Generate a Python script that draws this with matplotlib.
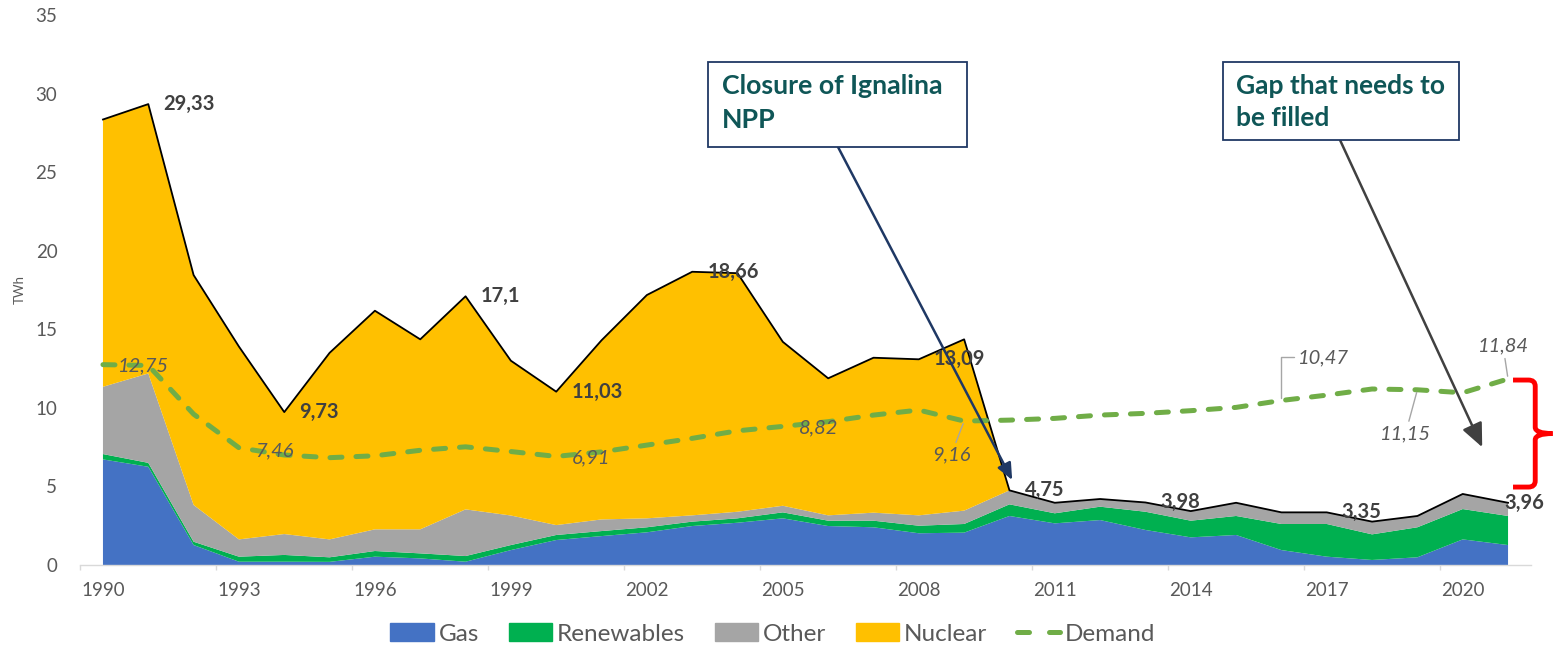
import numpy as np
import matplotlib
matplotlib.use("Agg")
import matplotlib.pyplot as plt
from matplotlib.patches import Patch, Rectangle, PathPatch
from matplotlib.lines import Line2D
from matplotlib.path import Path

plt.rcParams['font.family'] = ['Lato', 'DejaVu Sans']

years = list(range(1990, 2022))

gas = [6.72, 6.25, 1.27, 0.21, 0.21, 0.20, 0.53, 0.42, 0.21, 0.95,
       1.59, 1.84, 2.08, 2.48, 2.69, 2.97, 2.48, 2.40, 2.02, 2.06,
       3.12, 2.65, 2.86, 2.23, 1.76, 1.91, 0.95, 0.53, 0.32, 0.49,
       1.63, 1.27]
renewables = [0.34, 0.25, 0.21, 0.32, 0.43, 0.29, 0.36, 0.32, 0.36, 0.32,
              0.32, 0.32, 0.32, 0.28, 0.28, 0.38, 0.34, 0.42, 0.48, 0.55,
              0.74, 0.64, 0.85, 1.16, 1.06, 1.21, 1.66, 2.08, 1.63, 1.91,
              1.93, 1.85]
other = [4.28, 5.69, 2.34, 1.10, 1.33, 1.14, 1.38, 1.53, 2.97, 1.88,
         0.63, 0.74, 0.57, 0.40, 0.42, 0.42, 0.34, 0.51, 0.66, 0.85,
         0.89, 0.67, 0.49, 0.59, 0.61, 0.84, 0.74, 0.74, 0.81, 0.72,
         0.96, 0.84]
nuclear = [17.01, 17.14, 14.63, 12.27, 7.76, 11.87, 13.91, 12.09, 13.56, 9.85,
           8.49, 11.40, 14.21, 15.50, 15.18, 10.43, 8.72, 9.86, 9.93, 10.90,
           0, 0, 0, 0, 0, 0, 0, 0, 0, 0,
           0, 0]
demand = [12.75, 12.70, 9.60, 7.46, 7.00, 6.83, 6.95, 7.30, 7.52, 7.22,
          6.91, 7.20, 7.63, 8.06, 8.54, 8.82, 9.12, 9.54, 9.86, 9.16,
          9.22, 9.33, 9.54, 9.65, 9.82, 10.03, 10.47, 10.81, 11.20, 11.15,
          10.96, 11.84]

total_label_years = [1991, 1994, 1998, 2000, 2003, 2008, 2010, 2013, 2017, 2021]
demand_label_years = [1990, 1993, 2000, 2005, 2009, 2016, 2019, 2021]

tick_years = list(range(1990, 2022, 3))

c_gas = '#4472C4'
c_ren = '#00B050'
c_other = '#A5A5A5'
c_nuc = '#FFC000'
c_dem = '#70AD47'
c_txt = '#595959'
c_teal = '#0F5657'


def fmt(v):
    return f"{v:g}".replace('.', ',')


total = np.array(gas) + np.array(renewables) + np.array(other) + np.array(nuclear)

W, H = 1553, 648
fig = plt.figure(figsize=(W / 100, H / 100), dpi=100)
ax = fig.add_axes([80.3 / W, 1 - 565 / H, 1450.4 / W, 550 / H])

ax.stackplot(years, gas, renewables, other, nuclear,
             colors=[c_gas, c_ren, c_other, c_nuc], linewidth=0)
ax.plot(years, total, color='black', lw=1.3, zorder=3)
ax.plot(years, demand, color=c_dem, lw=3.6, linestyle=(0, (2.4, 2.8)),
        dash_capstyle='round', zorder=4)

ax.set_xlim(1989.5, 2021.5)
ax.set_ylim(0, 35)

for s in ['top', 'right', 'left']:
    ax.spines[s].set_visible(False)
ax.spines['bottom'].set_color('#D9D9D9')
ax.spines['bottom'].set_linewidth(1)

ax.set_yticks(range(0, 36, 5))
ax.tick_params(axis='y', length=0, pad=16.5, labelsize=13.5, labelcolor=c_txt)
ax.set_xticks(tick_years)
ax.set_xticks([y - 0.5 for y in tick_years], minor=True)
ax.tick_params(axis='x', which='major', length=0, pad=12, labelsize=13.5,
               labelcolor=c_txt)
ax.tick_params(axis='x', which='minor', length=3.6, width=1, color='#D9D9D9')

ax.set_ylabel('TWh', fontsize=9.5, color=c_txt)
ax.yaxis.set_label_coords(-0.0374, 0.5)

# labels on the total line
for y in total_label_years:
    i = years.index(y)
    dx = -2.9 if y == 2021 else 10.8
    ax.annotate(fmt(round(total[i], 2)), (y, total[i]), xytext=(dx, 0),
                textcoords='offset points', ha='left', va='center',
                fontsize=14.5, fontweight='bold', color='#404040', zorder=5)

# demand labels
dem_offsets = {1990: (10.8, -0.7), 1993: (11.5, -2.2), 2000: (11.5, -0.7),
               2005: (11.5, -0.7)}
for y in demand_label_years:
    i = years.index(y)
    if y in dem_offsets:
        ax.annotate(fmt(demand[i]), (y, demand[i]), xytext=dem_offsets[y],
                    textcoords='offset points', ha='left', va='center',
                    fontsize=14.5, fontstyle='italic', color=c_txt, zorder=5)

lead = dict(arrowstyle='-', color='#A6A6A6', lw=1, shrinkA=1, shrinkB=2)
for y, off in [(2009, (-9.4, -24.5)), (2019, (-8.6, -31.7)), (2021, (-3.6, 23.8))]:
    i = years.index(y)
    ax.annotate(fmt(demand[i]), (y, demand[i]), xytext=off,
                textcoords='offset points', ha='center', va='center',
                fontsize=14.5, fontstyle='italic', color=c_txt, zorder=5,
                arrowprops=lead, annotation_clip=False)
i = years.index(2016)
ax.annotate(fmt(demand[i]), (2016, demand[i]), xytext=(12.2, 31),
            textcoords='offset points', ha='left', va='center',
            fontsize=14.5, fontstyle='italic', color=c_txt, zorder=5,
            arrowprops=dict(lead, relpos=(0, 0.5),
                            connectionstyle='angle,angleA=180,angleB=90,rad=0'))

# annotation boxes
fig.add_artist(Rectangle((708 / W, 1 - 147 / H), 259 / W, 85 / H,
                         transform=fig.transFigure, fc='white',
                         ec='#203864', lw=1.3))
fig.text(722 / W, 1 - 74 / H, 'Closure of Ignalina\nNPP', ha='left', va='top',
         fontsize=19.3, fontweight='bold', color=c_teal, linespacing=1.5)
fig.add_artist(Rectangle((1223 / W, 1 - 140 / H), 236 / W, 78 / H,
                         transform=fig.transFigure, fc='white',
                         ec='#203864', lw=1.3))
fig.text(1236 / W, 1 - 74 / H, 'Gap that needs to\nbe filled', ha='left',
         va='top', fontsize=19, fontweight='bold', color=c_teal,
         linespacing=1.4)

ax.annotate('', xy=(2010.06, 5.41), xytext=(838, H - 147),
            textcoords='figure pixels', annotation_clip=False, zorder=6,
            arrowprops=dict(arrowstyle='-|>,head_length=0.5,head_width=0.22',
                            color='#1F3864', lw=1.8, mutation_scale=20,
                            shrinkA=0, shrinkB=0))
ax.annotate('', xy=(2020.43, 7.5), xytext=(1340, H - 140),
            textcoords='figure pixels', annotation_clip=False, zorder=6,
            arrowprops=dict(arrowstyle='-|>,head_length=0.72,head_width=0.32',
                            color='#404040', lw=1.8, mutation_scale=20,
                            shrinkA=0, shrinkB=0))

# red brace for the gap
x0, x1, x2 = 2021.11, 2021.60, 2021.98
ytop, ybot = 11.77, 4.96
ymid = (ytop + ybot) / 2
verts = [(x0, ytop), (x1 - 0.15, ytop), (x1, ytop), (x1, ytop - 0.4),
         (x1, ymid + 0.4), (x1, ymid), (x2, ymid), (x1, ymid), (x1, ymid - 0.4),
         (x1, ybot + 0.4), (x1, ybot), (x1 - 0.15, ybot), (x0, ybot)]
codes = [Path.MOVETO, Path.LINETO, Path.CURVE3, Path.CURVE3,
         Path.LINETO, Path.CURVE3, Path.CURVE3, Path.CURVE3, Path.CURVE3,
         Path.LINETO, Path.CURVE3, Path.CURVE3, Path.LINETO]
ax.add_patch(PathPatch(Path(verts, codes), fc='none', ec='#FF0000', lw=3.5,
                       clip_on=False, zorder=6))

handles = [Patch(color=c_gas), Patch(color=c_ren), Patch(color=c_other),
           Patch(color=c_nuc),
           Line2D([], [], color=c_dem, lw=3.6, linestyle=(0, (2.4, 4.0)),
                  dash_capstyle='round')]
leg = fig.legend(handles, ['Gas', 'Renewables', 'Other', 'Nuclear', 'Demand'],
                 loc='center', bbox_to_anchor=(773 / W, 1 - 634 / H), ncol=5,
                 frameon=False, fontsize=17.5, handlelength=1.8,
                 handleheight=0.75, handletextpad=0.2, columnspacing=1.2)
for t in leg.get_texts():
    t.set_color(c_txt)

fig.savefig('out.png', dpi=100)
